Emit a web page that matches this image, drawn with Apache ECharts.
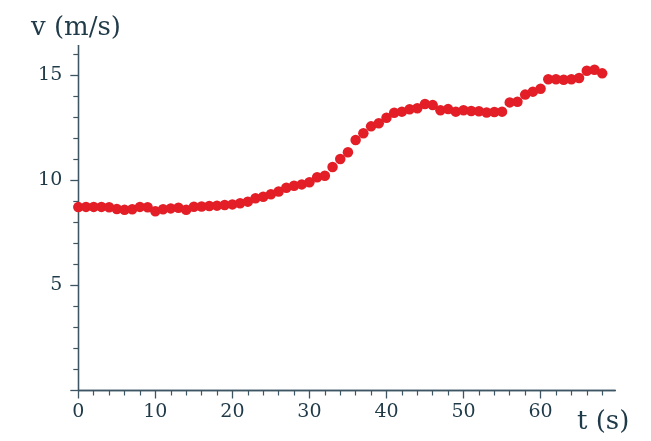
<!DOCTYPE html>
<html>
<head>
<meta charset="utf-8">
<script src="https://cdn.jsdelivr.net/npm/echarts@6/dist/echarts.min.js"></script>
<style>
  html, body { margin: 0; padding: 0; background: #ffffff; }
  #chart { width: 651px; height: 441px; }
</style>
</head>
<body>
<div id="chart"></div>
<script>
// Measured speed over time, one sample per second
const times = [
  0, 1, 2, 3, 4, 5, 6, 7, 8, 9,
  10, 11, 12, 13, 14, 15, 16, 17, 18, 19,
  20, 21, 22, 23, 24, 25, 26, 27, 28, 29,
  30, 31, 32, 33, 34, 35, 36, 37, 38, 39,
  40, 41, 42, 43, 44, 45, 46, 47, 48, 49,
  50, 51, 52, 53, 54, 55, 56, 57, 58, 59,
  60, 61, 62, 63, 64, 65, 66, 67, 68
];
const speeds = [
  8.72, 8.73, 8.73, 8.73, 8.71, 8.63, 8.59, 8.62, 8.73, 8.71,
  8.52, 8.62, 8.66, 8.69, 8.59, 8.74, 8.75, 8.77, 8.79, 8.82,
  8.85, 8.90, 8.98, 9.14, 9.21, 9.33, 9.46, 9.64, 9.74, 9.80,
  9.90, 10.14, 10.21, 10.63, 11.01, 11.33, 11.91, 12.23, 12.56, 12.71,
  12.97, 13.21, 13.26, 13.37, 13.42, 13.62, 13.57, 13.33, 13.38, 13.26,
  13.33, 13.29, 13.28, 13.22, 13.24, 13.26, 13.70, 13.73, 14.07, 14.21,
  14.35, 14.80, 14.80, 14.78, 14.80, 14.86, 15.20, 15.25, 15.08
];

// Tick positions
const xMajorTicks = [0, 10, 20, 30, 40, 50, 60];
const xMinorTicks = [2, 4, 6, 8, 12, 14, 16, 18, 22, 24, 26, 28, 32, 34, 36, 38,
                     42, 44, 46, 48, 52, 54, 56, 58, 62, 64, 66, 68];
const yMajorTicks = [0, 5, 10, 15];
const yMinorTicks = [1, 2, 3, 4, 6, 7, 8, 9, 11, 12, 13, 14, 16];

const X_MAX = 69.7;
const Y_MAX = 16.4;
const AXIS_COLOR = '#3e5563';
const TEXT_COLOR = '#1f3a48';
const FONT = '"DejaVu Serif", "Liberation Serif", serif';

const points = times.map((t, i) => [t, speeds[i]]);

const chart = echarts.init(document.getElementById('chart'), null, { renderer: 'canvas' });

const gridBox = { left: 78.3, right: 35.7, top: 45.6, bottom: 50.5 };

function baseX(extra) {
  return Object.assign({
    type: 'value', gridIndex: 0, position: 'bottom', min: 0, max: X_MAX,
    splitLine: { show: false },
    axisLine: { show: true, onZero: false, lineStyle: { color: AXIS_COLOR, width: 1.3 } }
  }, extra);
}
function baseY(extra) {
  return Object.assign({
    type: 'value', gridIndex: 0, position: 'left', min: 0, max: Y_MAX,
    splitLine: { show: false },
    axisLine: { show: true, onZero: false, lineStyle: { color: AXIS_COLOR, width: 1.3 } }
  }, extra);
}

chart.setOption({
  animation: false,
  backgroundColor: '#ffffff',
  grid: [Object.assign({ containLabel: false }, gridBox)],
  xAxis: [
    baseX({
      axisTick: { show: true, length: 8, customValues: xMajorTicks,
                  lineStyle: { color: AXIS_COLOR, width: 1.3 } },
      axisLabel: { show: true, customValues: xMajorTicks, margin: 12,
                   color: TEXT_COLOR, fontFamily: FONT, fontSize: 19 }
    }),
    baseX({
      axisTick: { show: true, length: 5, customValues: xMinorTicks,
                  lineStyle: { color: AXIS_COLOR, width: 1.2 } },
      axisLabel: { show: false }
    })
  ],
  yAxis: [
    baseY({
      axisTick: { show: true, length: 8, customValues: yMajorTicks,
                  lineStyle: { color: AXIS_COLOR, width: 1.3 } },
      axisLabel: { show: true, customValues: yMajorTicks.filter(v => v > 0), margin: 16,
                   color: TEXT_COLOR, fontFamily: FONT, fontSize: 19 }
    }),
    baseY({
      axisTick: { show: true, length: 5, customValues: yMinorTicks,
                  lineStyle: { color: AXIS_COLOR, width: 1.2 } },
      axisLabel: { show: false }
    })
  ],
  graphic: [
    {
      type: 'text', left: 31, top: 15,
      style: { text: 'v (m/s)', font: '26px ' + FONT, fill: TEXT_COLOR }
    },
    {
      type: 'text', left: 577, top: 409,
      style: { text: 't (s)', font: '26px ' + FONT, fill: TEXT_COLOR }
    }
  ],
  series: [{
    type: 'scatter',
    xAxisIndex: 0,
    yAxisIndex: 0,
    data: points,
    symbol: 'circle',
    symbolSize: 10.5,
    itemStyle: { color: '#e31e26', opacity: 1 },
    emphasis: { disabled: true }
  }]
});
</script>
</body>
</html>
